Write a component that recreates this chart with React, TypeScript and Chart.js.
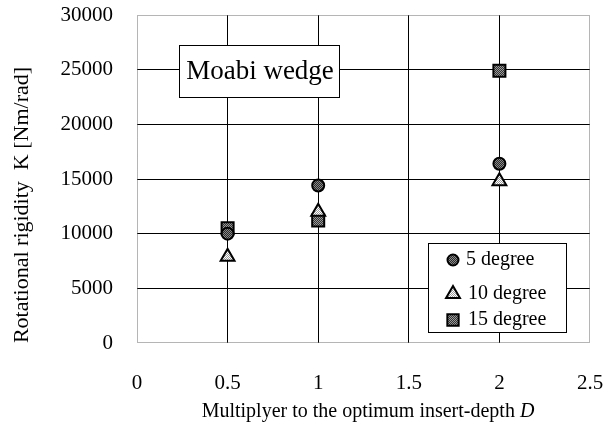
import React, { useEffect, useRef } from "react";
import { Chart, registerables } from "chart.js";

Chart.register(...registerables);

const depthMultipliers = [0.5, 1, 2];
const deg5 = [10000, 14400, 16400];
const deg10 = [7900, 12000, 14800];
const deg15 = [10500, 11200, 24900];
const seriesLabels = ["5 degree", "10 degree", "15 degree"];
const xTicks = [0, 0.5, 1, 1.5, 2, 2.5];
const yTicks = [0, 5000, 10000, 15000, 20000, 25000, 30000];
const chartTitle = "Moabi wedge";
const yTitle = "Rotational rigidity  K [Nm/rad]";
const xTitle = "Multiplyer to the optimum insert-depth ";

const FONT = "'Liberation Serif', 'Times New Roman', serif";

function makePattern(c1: string, c2: string): CanvasPattern | string {
  const cv = document.createElement("canvas");
  cv.width = 2;
  cv.height = 2;
  const c = cv.getContext("2d");
  if (!c) return c1;
  c.fillStyle = c1;
  c.fillRect(0, 0, 2, 2);
  c.fillStyle = c2;
  c.fillRect(0, 0, 1, 1);
  c.fillRect(1, 1, 1, 1);
  const p = c.createPattern(cv, "repeat");
  return p || c1;
}

const styles = [
  { pointStyle: "circle", radius: 6, fill: ["#2a2a2a", "#8a8a8a"] },
  { pointStyle: "triangle", radius: 8, fill: ["#ffffff", "#9a9a9a"] },
  { pointStyle: "rect", radius: 8.5, fill: ["#333333", "#9a9a9a"] },
];

function drawMarker(ctx: CanvasRenderingContext2D, style: string, x: number, y: number, r: number, fill: any) {
  ctx.save();
  ctx.beginPath();
  if (style === "circle") {
    ctx.arc(x, y, r, 0, Math.PI * 2);
  } else if (style === "triangle") {
    ctx.moveTo(x, y - r);
    ctx.lineTo(x + r * Math.sin(Math.PI / 3), y + r * 0.5);
    ctx.lineTo(x - r * Math.sin(Math.PI / 3), y + r * 0.5);
    ctx.closePath();
  } else {
    const s = r * Math.SQRT1_2;
    ctx.rect(x - s, y - s, 2 * s, 2 * s);
  }
  ctx.fillStyle = fill;
  ctx.fill();
  ctx.lineWidth = 2;
  ctx.strokeStyle = "#000";
  ctx.stroke();
  ctx.restore();
}

export default function App() {
  const ref = useRef<HTMLCanvasElement>(null);
  useEffect(() => {
    if (!ref.current) return;
    const fills = styles.map((s) => makePattern(s.fill[0], s.fill[1]));
    const overlayPlugin = {
      id: "overlay",
      afterDraw(chart: any) {
        const { ctx, chartArea } = chart;
        const { left, top, right, bottom } = chartArea;
        ctx.save();
        // frame
        ctx.setLineDash([1, 1]);
        ctx.strokeStyle = "#6a6a6a";
        ctx.lineWidth = 1;
        ctx.strokeRect(left + 0.5, top + 0.5, right - left - 1, bottom - top - 1);
        ctx.setLineDash([]);

        // title box
        const tbx = left + 42, tby = top + 30, tbw = 160, tbh = 52;
        ctx.fillStyle = "#fff";
        ctx.fillRect(tbx, tby, tbw, tbh);
        ctx.strokeStyle = "#000";
        ctx.strokeRect(tbx + 0.5, tby + 0.5, tbw, tbh);
        ctx.fillStyle = "#000";
        ctx.font = `27px ${FONT}`;
        ctx.textAlign = "center";
        ctx.textBaseline = "middle";
        ctx.fillText(chartTitle, tbx + tbw / 2 + 1, tby + tbh / 2 + 1);

        // legend box
        const lbx = left + 291, lby = top + 228, lbw = 138, lbh = 89;
        ctx.fillStyle = "#fff";
        ctx.fillRect(lbx, lby, lbw, lbh);
        ctx.strokeStyle = "#000";
        ctx.strokeRect(lbx + 0.5, lby + 0.5, lbw, lbh);
        const rowsY = [lby + 17, lby + 51, lby + 77];
        ctx.font = `20px ${FONT}`;
        ctx.textAlign = "left";
        seriesLabels.forEach((lab, i) => {
          const s = styles[i];
          drawMarker(ctx, s.pointStyle, lbx + 25, rowsY[i], i === 0 ? 5.5 : i === 1 ? 8 : 8, fills[i]);
          ctx.fillStyle = "#000";
          ctx.fillText(lab, i === 0 ? lbx + 38 : lbx + 40, rowsY[i]);
        });

        // y title
        ctx.save();
        ctx.translate(22, 205);
        ctx.rotate(-Math.PI / 2);
        ctx.font = `22px ${FONT}`;
        ctx.textAlign = "center";
        ctx.textBaseline = "middle";
        ctx.fillStyle = "#000";
        ctx.fillText(yTitle, 0, 0);
        ctx.restore();

        // x title
        ctx.font = `20px ${FONT}`;
        ctx.textBaseline = "middle";
        ctx.textAlign = "left";
        const w1 = ctx.measureText(xTitle).width;
        ctx.font = `italic 20px ${FONT}`;
        const w2 = ctx.measureText("D").width;
        const sx = 368 - (w1 + w2) / 2;
        ctx.font = `20px ${FONT}`;
        ctx.fillStyle = "#000";
        ctx.fillText(xTitle, sx, 412);
        ctx.font = `italic 20px ${FONT}`;
        ctx.fillText("D", sx + w1, 412);
        ctx.restore();
      },
    };
    const zeroPad = (s: any) => {
      s.paddingTop = 0;
      s.paddingBottom = 0;
      s.paddingLeft = 0;
      s.paddingRight = 0;
    };
    const mk = (vals: number[]) => depthMultipliers.map((x, i) => ({ x, y: vals[i] }));
    const chart = new Chart(ref.current, {
      type: "scatter",
      data: {
        datasets: [deg5, deg10, deg15].map((vals, i) => ({
          label: seriesLabels[i],
          data: mk(vals),
          pointStyle: styles[i].pointStyle as any,
          pointRadius: styles[i].radius,
          pointHoverRadius: styles[i].radius,
          backgroundColor: fills[i] as any,
          borderColor: "#000",
          pointBorderWidth: 2,
        })),
      },
      options: {
        responsive: false,
        animation: false,
        devicePixelRatio: 1,
        layout: { padding: { left: 0, top: 15, right: 21, bottom: 0 } },
        plugins: { legend: { display: false }, tooltip: { enabled: false }, title: { display: false } },
        scales: {
          x: {
            type: "linear",
            min: 0,
            max: 2.5,
            afterBuildTicks: (s: any) => { s.ticks = xTicks.map((v) => ({ value: v })); },
            afterFit: (s: any) => { s.height = 90; zeroPad(s); },
            border: { display: false },
            grid: {
              drawTicks: false,
              color: (c: any) => (c.tick && (c.tick.value === 0 || c.tick.value === 2.5) ? "rgba(0,0,0,0)" : "#000"),
              lineWidth: 1,
            },
            ticks: {
              padding: 28,
              color: "#000",
              font: { family: FONT, size: 21 },
              maxRotation: 0,
              callback: (v: any) => String(v),
            },
          },
          y: {
            type: "linear",
            min: 0,
            max: 30000,
            afterBuildTicks: (s: any) => { s.ticks = yTicks.map((v) => ({ value: v })); },
            afterFit: (s: any) => { s.width = 137; zeroPad(s); },
            border: { display: false },
            grid: {
              drawTicks: false,
              color: (c: any) => (c.tick && (c.tick.value === 0 || c.tick.value === 30000) ? "rgba(0,0,0,0)" : "#000"),
              lineWidth: 1,
            },
            ticks: {
              padding: 24,
              color: "#000",
              font: { family: FONT, size: 21 },
              callback: (v: any) => String(v),
            },
          },
        },
      },
      plugins: [overlayPlugin],
    });
    return () => chart.destroy();
  }, []);
  return (
    <div style={{ position: "absolute", left: 0, top: 0, width: 611, height: 433, background: "#fff" }}>
      <canvas ref={ref} width={611} height={433} style={{ display: "block" }} />
    </div>
  );
}
